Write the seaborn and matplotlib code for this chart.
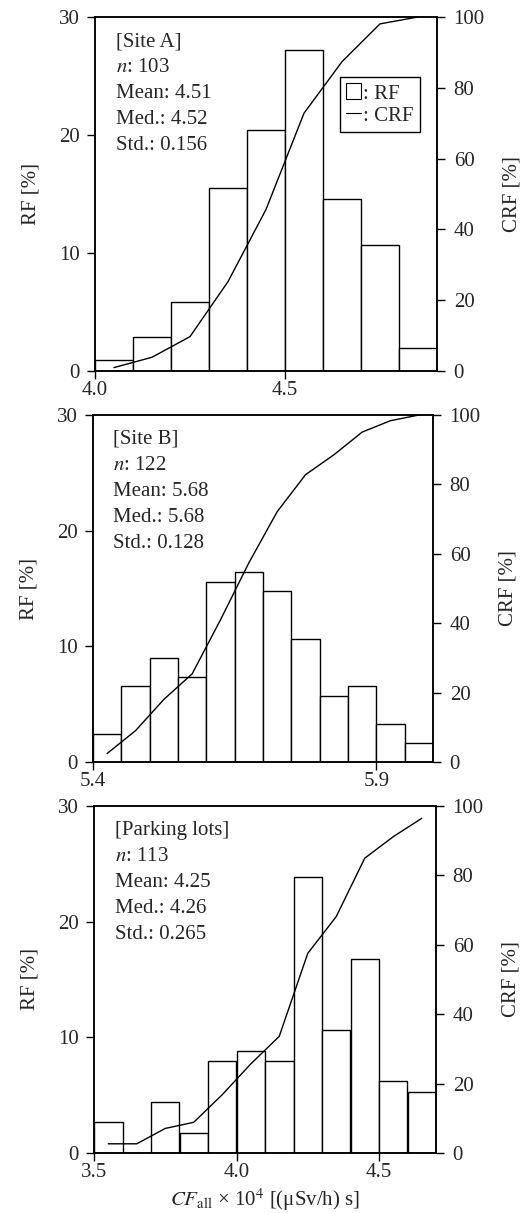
import matplotlib
matplotlib.use('Agg')
import matplotlib.pyplot as plt
import seaborn as sns
from matplotlib.patches import Patch
from matplotlib.lines import Line2D

# bin left edges, relative frequency [%] and cumulative RF [%]
a_bins = [4.0, 4.1, 4.2, 4.3, 4.4, 4.5, 4.6, 4.7, 4.8]
a_rf = [0.97, 2.91, 5.83, 15.53, 20.39, 27.18, 14.56, 10.68, 1.94]
a_crf = [0.97, 3.88, 9.71, 25.24, 45.63, 72.82, 87.38, 98.06, 100.0]

b_bins = [5.40, 5.45, 5.50, 5.55, 5.60, 5.65, 5.70, 5.75, 5.80, 5.85, 5.90, 5.95]
b_rf = [2.46, 6.56, 9.02, 7.38, 15.57, 16.39, 14.75, 10.66, 5.74, 6.56, 3.28, 1.64]
b_crf = [2.46, 9.02, 18.03, 25.41, 40.98, 57.38, 72.13, 82.79, 88.52, 95.08, 98.36, 100.0]

c_bins = [3.5, 3.6, 3.7, 3.8, 3.9, 4.0, 4.1, 4.2, 4.3, 4.4, 4.5, 4.6]
c_rf = [2.65, 0.0, 4.42, 1.77, 7.96, 8.85, 7.96, 23.89, 10.62, 16.81, 6.19, 5.31]
c_crf = [2.65, 2.65, 7.08, 8.85, 16.81, 25.66, 33.63, 57.52, 68.14, 84.96, 91.15, 96.46]

stats_text = [
    ['[Site A]', '$n$: 103', 'Mean: 4.51', 'Med.: 4.52', 'Std.: 0.156'],
    ['[Site B]', '$n$: 122', 'Mean: 5.68', 'Med.: 5.68', 'Std.: 0.128'],
    ['[Parking lots]', '$n$: 113', 'Mean: 4.25', 'Med.: 4.26', 'Std.: 0.265'],
]
x_ticks = [[4.0, 4.5], [5.4, 5.9], [3.5, 4.0, 4.5]]

sns.set_style('ticks')
plt.rcParams['font.family'] = ['Liberation Serif', 'DejaVu Serif']
plt.rcParams['mathtext.fontset'] = 'stix'
FS = 15

fig = plt.figure(figsize=(5.25, 12.13), dpi=100)
boxes = [
    [95 / 525, (1213 - 371) / 1213, 342 / 525, 354 / 1213],
    [93 / 525, (1213 - 762) / 1213, 340 / 525, 347 / 1213],
    [94 / 525, (1213 - 1153) / 1213, 342 / 525, 347 / 1213],
]
panels = [(a_bins, a_rf, a_crf, 0.1), (b_bins, b_rf, b_crf, 0.05), (c_bins, c_rf, c_crf, 0.1)]

for i, ((bins, rf, crf, w), box) in enumerate(zip(panels, boxes)):
    ax = fig.add_axes(box)
    edges = bins + [round(bins[-1] + w, 3)]
    centers = [b + w / 2 for b in bins]
    sns.histplot(x=centers, weights=rf, bins=edges, stat='count', ax=ax,
                 color='white', edgecolor='black', linewidth=1.0, alpha=1)
    ax.set_xlim(edges[0], edges[-1])
    ax.set_ylim(0, 30)
    ax.set_yticks([0, 10, 20, 30])
    ax.set_xticks(x_ticks[i])
    ax.set_xticklabels([f'{t:.1f}' for t in x_ticks[i]])
    ax.set_ylabel('RF [%]', fontsize=FS, labelpad=13)
    ax.tick_params(direction='out', length=6, width=1, labelsize=FS, color='black')
    ax.tick_params(axis='y', pad=5)
    ax.tick_params(axis='x', pad=1.5)
    for s in ax.spines.values():
        s.set_linewidth(1.1)
        s.set_color('black')

    ax2 = ax.twinx()
    sns.lineplot(x=centers, y=crf, ax=ax2, color='black', linewidth=1.0)
    ax2.set_ylim(0, 100)
    ax2.set_yticks([0, 20, 40, 60, 80, 100])
    ax2.set_ylabel('CRF [%]', fontsize=FS, labelpad=13)
    ax2.tick_params(direction='out', length=6, width=1, labelsize=FS, pad=6, color='black')
    for s in ax2.spines.values():
        s.set_linewidth(1.1)
        s.set_color('black')

    ax.text(0.06, 0.957, '\n'.join(stats_text[i]), transform=ax.transAxes,
            fontsize=FS, va='top', ha='left', linespacing=1.5)

    if i == 0:
        handles = [Patch(facecolor='white', edgecolor='black', linewidth=0.8),
                   Line2D([], [], color='black', linewidth=0.8)]
        ax2.legend(handles, [': RF', ': CRF'], loc='upper right',
                   bbox_to_anchor=(0.95, 0.83), fontsize=FS, frameon=True,
                   fancybox=False, edgecolor='black', framealpha=1,
                   handlelength=0.7, handleheight=0.8, handletextpad=0.1,
                   borderpad=0.3, labelspacing=0.1, borderaxespad=0)
    if i == 2:
        ax.set_xlabel(r'$CF_{\mathrm{all}}$ × 10$^4$ [(μSv/h) s]', fontsize=FS, labelpad=3)
    else:
        ax.set_xlabel('')

fig.savefig('out.png', dpi=100)
